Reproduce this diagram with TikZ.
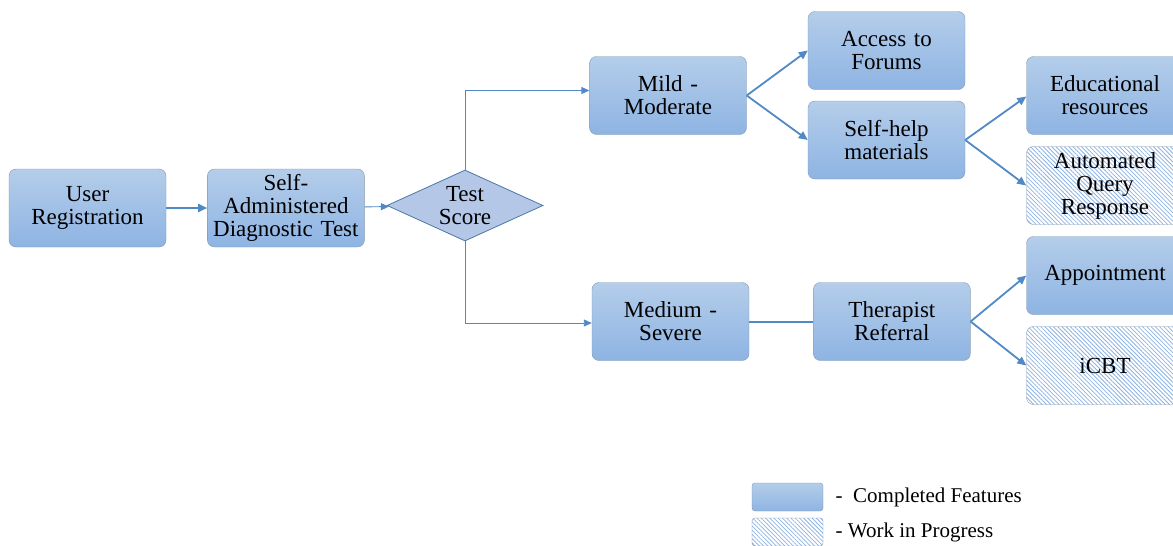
\documentclass[tikz,border=0pt]{standalone}
\usepackage{fontspec}
\setmainfont{Liberation Serif}
\usepackage{tikz}
\usetikzlibrary{positioning, shapes.geometric, arrows.meta, patterns.meta}

\definecolor{boxtop}{HTML}{B4CDEA}
\definecolor{boxbot}{HTML}{8EB4E3}
\definecolor{boxline}{HTML}{8398B0}
\definecolor{link}{HTML}{5089C6}
\definecolor{diafill}{HTML}{B4C7E7}
\definecolor{dialine}{HTML}{4A77A8}
\definecolor{hatch}{HTML}{8DB3E2}

\begin{document}
\begin{tikzpicture}[x=1pt, y=-1pt,
	font=\fontsize{23}{23}\selectfont,
	done/.style={draw=boxline, rounded corners=7pt, top color=boxtop, bottom color=boxbot,
		minimum width=157pt, minimum height=78pt, text width=150pt, align=center, inner sep=0pt},
	wip/.style={draw=boxline, rounded corners=7pt, fill=white,
		pattern={Lines[angle=-45, distance=3pt, line width=0.8pt]}, pattern color=hatch,
		minimum width=157pt, minimum height=78pt, text width=150pt, align=center, inner sep=0pt},
	decision/.style={diamond, draw=dialine, thick, fill=diafill, shape aspect=2.2,
		minimum width=156pt, minimum height=71pt, inner sep=0pt, align=center},
	arr/.style={draw=link, line width=1.8pt, -{Triangle[length=9pt, width=8pt]}},
	thinarr/.style={draw=link, line width=0.9pt, -{Triangle[length=8pt, width=7pt]}}]

	\useasboundingbox (0,0) rectangle (1173,546);

	\node[done] (reg) at (87.5,208) {User\\Registration};
	\node[done, right=41pt of reg] (sat) {Self-\\Administered\\Diagnostic Test};
	\node[decision] (ts) at (465,205.5) {Test\\Score};

	\node[done] (mild) at (668,95.5) {Mild -\\Moderate};
	\node[done] (acc) at (886.5,50.5) {Access to\\Forums};
	\node[done] (shm) at (886.5,140) {Self-help\\materials};
	\node[done] (edu) at (1105,95.5) {Educational\\resources};
	\node[wip] (aqr) at (1105,185.5) {Automated\\Query\\Response};

	\node[done] (med) at (670.5,321.5) {Medium -\\Severe};
	\node[done, right=64pt of med] (ther) {Therapist\\Referral};
	\node[done] (app) at (1105,275.5) {Appointment};
	\node[wip] (icbt) at (1105,365.5) {iCBT};

	% legend
	\node[done, rounded corners=3pt, minimum width=71pt, minimum height=28pt, text width=60pt] (lb1) at (787.5,497) {};
	\node[wip, rounded corners=3pt, minimum width=71pt, minimum height=28pt, text width=60pt] (lb2) at (787.5,532) {};
	\node[font=\fontsize{21}{21}\selectfont, right=9pt of lb1] (lt1) {-\ \ Completed Features};
	\node[font=\fontsize{21}{21}\selectfont, right=9pt of lb2] (lt2) {- Work in Progress};

	% connectors
	\draw[arr] (reg) -- (sat);
	\draw[thinarr] (sat) -- (ts);
	\draw[thinarr] (ts.north) |- ([yshift=5pt]mild.west);
	\draw[thinarr] (ts.south) |- ([yshift=-1.5pt]med.west);
	\draw[arr] (mild.east) -- (acc.west);
	\draw[arr] (mild.east) -- (shm.west);
	\draw[arr] (shm.east) -- ([yshift=-1pt]edu.west);
	\draw[arr] (shm.east) -- (aqr.west);
	\draw[draw=link, line width=2pt] (med) -- (ther);
	\draw[arr] (ther.east) -- (app.west);
	\draw[arr] (ther.east) -- (icbt.west);
\end{tikzpicture}
\end{document}
